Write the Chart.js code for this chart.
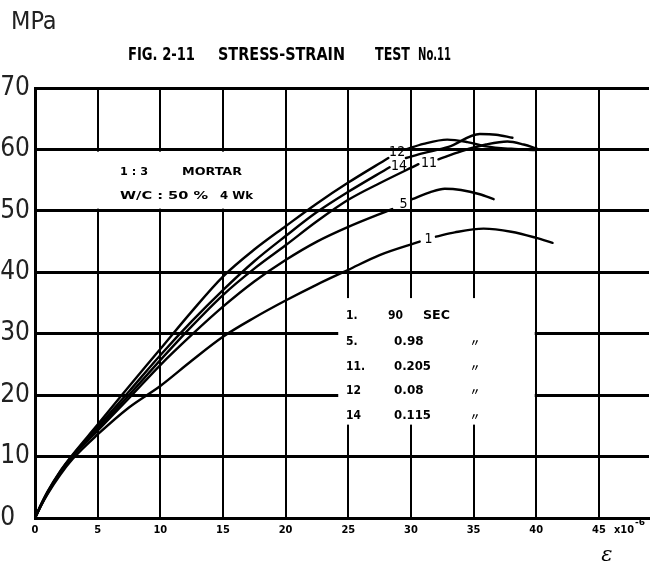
<!DOCTYPE html>
<html><head><meta charset="utf-8">
<script src="https://cdn.jsdelivr.net/npm/chart.js@4/dist/chart.umd.min.js"></script>
<style>html,body{margin:0;padding:0;background:#fff;}#wrap{width:657px;height:569px;position:relative;}</style>
</head><body><div id="wrap"><canvas id="c" width="657" height="569"></canvas></div>
<script>
// ---- data (strain x10^-6 units as on the axis, stress in MPa) ----
const seriesNames = ['1', '5', '11', '12', '14'];
const legendNums = ['1.', '5.', '11.', '12', '14'];
const legendVals = ['90', '0.98', '0.205', '0.08', '0.115'];
const legendUnits = ['SEC', '〃', '〃', '〃', '〃'];
const xTicks = [0, 5, 10, 15, 20, 25, 30, 35, 40, 45];
const yTicks = [0, 10, 20, 30, 40, 50, 60, 70];

const strain1 = [0, 0.5, 1, 2, 3, 5, 7.5, 10, 12.5, 15, 17.5, 20, 22.5, 25, 27.5, 30.7, 31.4, 32.0, 33.5, 35.8, 38, 40, 41.3];
const stress1 = [0, 2.1, 3.9, 7.0, 9.6, 13.6, 18.0, 21.5, 25.6, 29.5, 32.6, 35.4, 38.0, 40.4, 42.8, 45.0, null, 45.8, 46.5, 47.1, 46.6, 45.6, 44.8];

const strain5 = [0, 0.5, 1, 2, 3, 5, 7.5, 10, 12.5, 15, 17.5, 20, 22.5, 25, 28.5, 29.4, 30.1, 31.5, 32.7, 34, 35.5, 36.6];
const stress5 = [0, 2.1, 4.0, 7.3, 10.0, 14.2, 19.5, 24.9, 29.8, 34.4, 38.5, 42.0, 45.0, 47.4, 50.3, null, 51.9, 53.0, 53.6, 53.4, 52.7, 51.9];

const strain11 = [0, 0.5, 1, 2, 3, 5, 7.5, 10, 12.5, 15, 17.5, 20, 22.5, 25, 27.5, 30.6, 31.4, 32.2, 34, 36, 37.7, 39, 40.1];
const stress11 = [0, 2.2, 4.1, 7.4, 10.1, 14.5, 20.0, 25.7, 31.2, 36.3, 40.6, 44.4, 48.3, 51.8, 54.5, 57.6, null, 58.4, 59.7, 60.8, 61.3, 60.8, 60.1];

const strain12 = [0, 0.5, 1, 2, 3, 5, 7, 10, 12.5, 15, 17.5, 20, 22.5, 25, 28.2, 28.9, 29.6, 31, 32.9, 34.5, 36, 38, 40];
const stress12 = [0, 2.3, 4.3, 7.6, 10.3, 15.2, 20.2, 27.5, 33.6, 39.3, 43.7, 47.5, 51.2, 54.6, 58.6, null, 60.0, 60.9, 61.6, 61.2, 60.5, 60.1, 59.9];

const strain14 = [0, 0.5, 1, 2, 3, 5, 7.5, 10, 12.5, 15, 17.5, 20, 22.5, 25, 28.3, 28.9, 29.6, 31, 33, 35.5, 36.8, 38.1];
const stress14 = [0, 2.2, 4.2, 7.5, 10.2, 14.8, 20.6, 26.5, 32.0, 37.1, 41.8, 45.9, 49.8, 53.1, 57.1, null, 58.6, 59.4, 60.4, 62.5, 62.4, 61.9];

// curve label anchor points (data coordinates)
const labelStrain = [31.4, 29.4, 31.45, 28.9, 29.05];
const labelStress = [45.4, 51.1, 57.8, 59.6, 57.3];

const allStrain = [strain1, strain5, strain11, strain12, strain14];
const allStress = [stress1, stress5, stress11, stress12, stress14];

const NARROW = "'Liberation Sans Narrow', 'DejaVu Sans Condensed', 'Liberation Sans', sans-serif";

const datasets = seriesNames.map((n, i) => ({
  label: n,
  data: allStrain[i].map((x, k) => ({ x: x, y: allStress[i][k] })),
  borderColor: '#000',
  borderWidth: 2.4,
  borderCapStyle: 'round',
  pointRadius: 0,
  fill: false,
  spanGaps: false,
  cubicInterpolationMode: 'monotone'
}));

function fitText(ctx, text, x, y, w, font) {
  ctx.font = font;
  const m = ctx.measureText(text).width;
  ctx.save();
  ctx.translate(x, y);
  ctx.scale(w / m, 1);
  ctx.fillText(text, 0, 0);
  ctx.restore();
}

const decor = {
  id: 'decor',
  beforeDatasetsDraw(chart) {
    const ctx = chart.ctx, xs = chart.scales.x, ys = chart.scales.y;
    ctx.save();
    ctx.fillStyle = '#fff';
    // white panel behind the mortar note
    let l = xs.getPixelForValue(5) - 2, r = xs.getPixelForValue(20) - 1.5;
    let t = ys.getPixelForValue(60) + 2.2, b = ys.getPixelForValue(50) - 2.2;
    ctx.fillRect(l, t, r - l, b - t);
    // white panel behind the loading-time table
    l = xs.getPixelForValue(24.2); r = xs.getPixelForValue(40) - 1.5;
    t = ys.getPixelForValue(35.8); b = ys.getPixelForValue(15.2);
    ctx.fillRect(l, t, r - l, b - t);
    ctx.restore();
  },
  afterDatasetsDraw(chart) {
    const ctx = chart.ctx, xs = chart.scales.x, ys = chart.scales.y;
    ctx.save();
    ctx.fillStyle = '#000';
    ctx.textBaseline = 'middle';
    ctx.textAlign = 'center';
    // curve labels
    ctx.font = '14px ' + NARROW;
    seriesNames.forEach((n, i) => {
      ctx.fillText(n, xs.getPixelForValue(labelStrain[i]), ys.getPixelForValue(labelStress[i]));
    });
    ctx.textAlign = 'left';
    // title
    const tf = 'bold 17px ' + NARROW;
    fitText(ctx, 'FIG. 2-11', 128, 56, 67, tf);
    fitText(ctx, 'STRESS-STRAIN', 218, 56, 127, tf);
    fitText(ctx, 'TEST', 375, 56, 35, tf);
    fitText(ctx, 'No.11', 418, 56, 33, tf);
    // mortar note
    const nf = 'bold 11px ' + NARROW;
    fitText(ctx, '1 : 3', 120, 172, 28, nf);
    fitText(ctx, 'MORTAR', 182, 172, 60, nf);
    fitText(ctx, 'W/C : 50 %', 120, 196, 88, nf);
    fitText(ctx, '4 Wk', 220, 196, 33, nf);
    // loading-time table
    const rows = [316, 342, 367, 391, 416];
    rows.forEach((y, i) => {
      ctx.font = 'bold 12px ' + NARROW;
      ctx.fillText(legendNums[i], 346, y);
      if (i === 0) {
        fitText(ctx, legendVals[i], 388, y, 15, 'bold 12px ' + NARROW);
        fitText(ctx, legendUnits[i], 423, y, 27, 'bold 12px ' + NARROW);
      } else {
        fitText(ctx, legendVals[i], 394, y, legendVals[i].length * 7.4, 'bold 12px ' + NARROW);
        ctx.font = 'bold 10px "Noto Sans CJK JP", sans-serif';
        ctx.fillText(legendUnits[i], 470, y);
      }
    });
    // axis unit texts
    ctx.font = '25px ' + NARROW;
    ctx.fillStyle = '#222';
    ctx.fillText('MPa', 11, 22);
    ctx.fillStyle = '#000';
    fitText(ctx, 'x10', 614, 530, 20, 'bold 11px ' + NARROW);
    fitText(ctx, '-6', 635, 523, 10, 'bold 9px ' + NARROW);
    ctx.font = 'italic 21px "DejaVu Serif", serif';
    ctx.textAlign = 'center';
    ctx.fillText('ε', 607, 556);
    ctx.restore();
  }
};

new Chart(document.getElementById('c'), {
  type: 'line',
  data: { datasets: datasets },
  plugins: [decor],
  options: {
    responsive: false,
    devicePixelRatio: 1,
    animation: false,
    layout: { padding: { top: 88, right: 8, left: 0, bottom: 0 } },
    plugins: { legend: { display: false }, tooltip: { enabled: false }, title: { display: false } },
    scales: {
      x: {
        type: 'linear', min: 0, max: 49,
        afterFit(s) { s.height = 51; },
        afterBuildTicks(s) { s.ticks = xTicks.map(v => ({ value: v })); },
        ticks: { stepSize: 5, includeBounds: false, color: '#000', padding: 6,
                 font: { family: NARROW, size: 11, weight: 'bold' },
                 callback: v => String(v) },
        grid: { color: '#000', lineWidth: 2, drawTicks: false },
        border: { display: true, color: '#000', width: 3 }
      },
      y: {
        type: 'linear', min: 0, max: 70,
        afterFit(s) { s.width = 35; },
        afterBuildTicks(s) { s.ticks = yTicks.map(v => ({ value: v })); },
        ticks: { stepSize: 10, color: '#222', padding: 5,
                 font: { family: NARROW, size: 26 },
                 callback: v => (v === 0 ? '0  ' : String(v)) },
        grid: { color: '#000', lineWidth: 3, drawTicks: false },
        border: { display: true, color: '#000', width: 3 }
      }
    }
  }
});
</script></body></html>
